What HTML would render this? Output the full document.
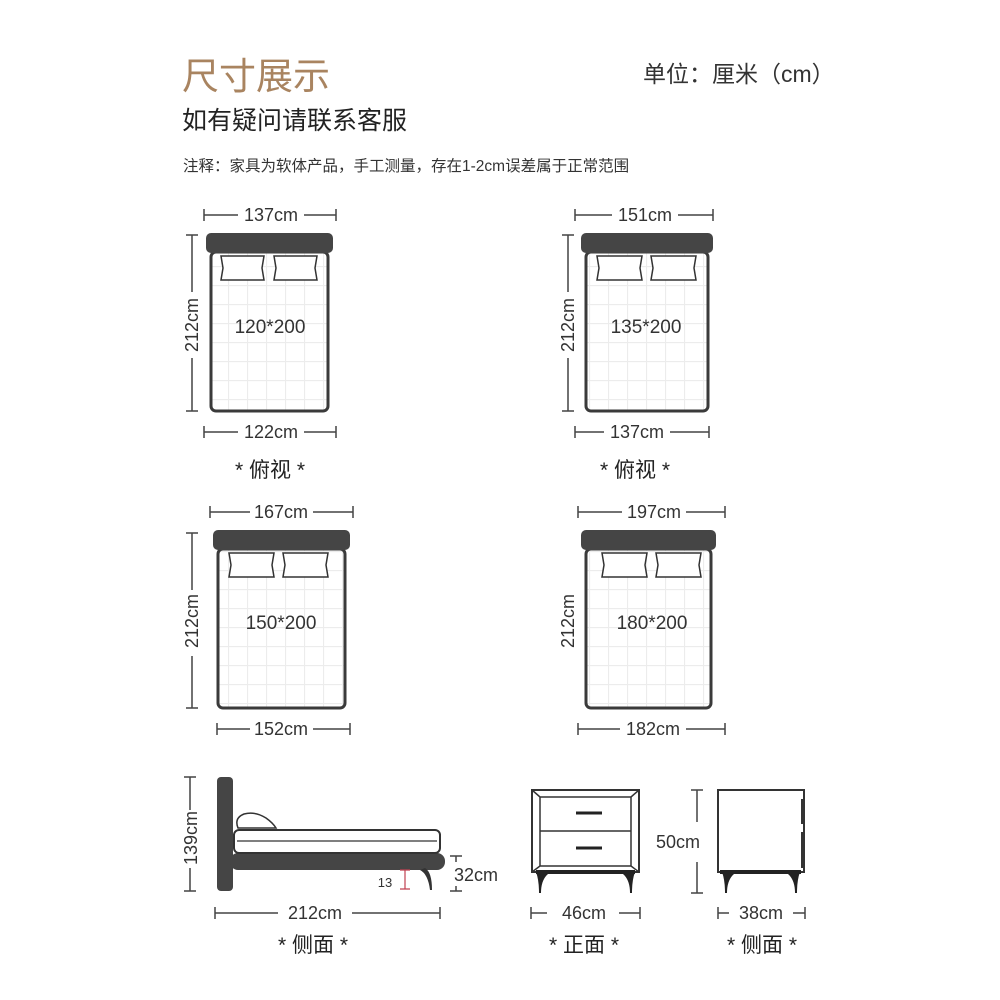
<!DOCTYPE html>
<html><head><meta charset="utf-8"><style>
html,body{margin:0;padding:0;background:#fff;}
svg{display:block;}
text{font-family:"Liberation Sans","Noto Sans CJK SC",sans-serif;}
</style></head><body>
<svg width="1000" height="1000" viewBox="0 0 1000 1000" xmlns="http://www.w3.org/2000/svg">
<defs>
<pattern id="grid" x="0" y="0" width="19" height="19" patternUnits="userSpaceOnUse">
<rect width="19" height="19" fill="#fff"/>
<path d="M0 0.5H19M0.5 0V19" stroke="#ececec" stroke-width="1.2"/>
</pattern>
</defs>
<rect width="1000" height="1000" fill="#fff"/>
<text x="182" y="89" font-size="37" fill="#a98460">尺寸展示</text>
<text x="643" y="82" font-size="23" fill="#333">单位：厘米（cm）</text>
<text x="182" y="129" font-size="25" fill="#222">如有疑问请联系客服</text>
<text x="183" y="171" font-size="15.5" fill="#333">注释：家具为软体产品，手工测量，存在1-2cm误差属于正常范围</text>

<g stroke="#444" stroke-width="1.5" fill="none">
<path d="M204 215H238M304 215H336M204 209V221M336 209V221"/>
<path d="M204 432H238M304 432H336M204 426V438M336 426V438"/>
<path d="M192 235V292M192 358V411M186 235H198M186 411H198"/>
<path d="M575 215H612M678 215H713M575 209V221M713 209V221"/>
<path d="M575 432H604M670 432H709M575 426V438M709 426V438"/>
<path d="M568 235V292M568 358V411M562 235H574M562 411H574"/>
<path d="M210 512H250M313 512H353M210 506V518M353 506V518"/>
<path d="M217 729H250M313 729H350M217 723V735M350 723V735"/>
<path d="M192 533V590M192 656V708M186 533H198M186 708H198"/>
<path d="M578 512H622M686 512H725M578 506V518M725 506V518"/>
<path d="M578 729H620M686 729H725M578 723V735M725 723V735"/>
<path d="M190 777V810M190 868V891M184 777H196M184 891H196"/>
<path d="M456 856V862M456 886V891M450 856H462M450 891H462"/>
<path d="M215 913H278M352 913H440M215 907V919M440 907V919"/>
<path d="M531 913H547M619 913H640M531 907V919M640 907V919"/>
<path d="M697 790V822M697 862V893M691 790H703M691 893H703"/>
<path d="M718 913H729M793 913H805M718 907V919M805 907V919"/>
</g>

<g font-size="18" fill="#333" text-anchor="middle">
<text x="271" y="221">137cm</text>
<text x="271" y="438">122cm</text>
<text x="645" y="221">151cm</text>
<text x="637" y="438">137cm</text>
<text x="281" y="518">167cm</text>
<text x="281" y="735">152cm</text>
<text x="654" y="518">197cm</text>
<text x="653" y="735">182cm</text>
<text transform="translate(198,325) rotate(-90)">212cm</text>
<text transform="translate(574,325) rotate(-90)">212cm</text>
<text transform="translate(198,621) rotate(-90)">212cm</text>
<text transform="translate(574,621) rotate(-90)">212cm</text>
<text transform="translate(197,838) rotate(-90)">139cm</text>
<text x="315" y="919">212cm</text>
<text x="584" y="919">46cm</text>
<text x="761" y="919">38cm</text>
<text x="476" y="881">32cm</text>
<text x="678" y="848">50cm</text>
<text x="385" y="887" font-size="13">13</text>
</g>
<g font-size="21" fill="#222" text-anchor="middle">
<text x="270" y="477">* 俯视 *</text>
<text x="635" y="477">* 俯视 *</text>
<text x="313" y="952">* 侧面 *</text>
<text x="584" y="952">* 正面 *</text>
<text x="762" y="952">* 侧面 *</text>
</g>

<g>
<rect x="211" y="252" width="117" height="159" rx="5" fill="url(#grid)" stroke="#3a3a3a" stroke-width="3"/>
<rect x="206" y="233" width="127" height="20" rx="5" fill="#454545"/>
<path d="M221 256H264L262 268L264 280H221L223 268Z" fill="#fff" stroke="#333" stroke-width="1.5"/>
<path d="M274 256H317L315 268L317 280H274L276 268Z" fill="#fff" stroke="#333" stroke-width="1.5"/>
<text x="270" y="333" font-size="19" fill="#333" text-anchor="middle">120*200</text>

<rect x="586" y="252" width="122" height="159" rx="5" fill="url(#grid)" stroke="#3a3a3a" stroke-width="3"/>
<rect x="581" y="233" width="132" height="20" rx="5" fill="#454545"/>
<path d="M597 256H642L640 268L642 280H597L599 268Z" fill="#fff" stroke="#333" stroke-width="1.5"/>
<path d="M651 256H696L694 268L696 280H651L653 268Z" fill="#fff" stroke="#333" stroke-width="1.5"/>
<text x="646" y="333" font-size="19" fill="#333" text-anchor="middle">135*200</text>

<rect x="218" y="549" width="127" height="159" rx="5" fill="url(#grid)" stroke="#3a3a3a" stroke-width="3"/>
<rect x="213" y="530" width="137" height="20" rx="5" fill="#454545"/>
<path d="M229 553H274L272 565L274 577H229L231 565Z" fill="#fff" stroke="#333" stroke-width="1.5"/>
<path d="M283 553H328L326 565L328 577H283L285 565Z" fill="#fff" stroke="#333" stroke-width="1.5"/>
<text x="281" y="629" font-size="19" fill="#333" text-anchor="middle">150*200</text>

<rect x="586" y="549" width="125" height="159" rx="5" fill="url(#grid)" stroke="#3a3a3a" stroke-width="3"/>
<rect x="581" y="530" width="135" height="20" rx="5" fill="#454545"/>
<path d="M602 553H647L645 565L647 577H602L604 565Z" fill="#fff" stroke="#333" stroke-width="1.5"/>
<path d="M656 553H701L699 565L701 577H656L658 565Z" fill="#fff" stroke="#333" stroke-width="1.5"/>
<text x="652" y="629" font-size="19" fill="#333" text-anchor="middle">180*200</text>
</g>

<rect x="217" y="777" width="16" height="114" rx="4" fill="#454545"/>
<rect x="230" y="853" width="215" height="17" rx="8" fill="#454545"/>
<path d="M425 868Q432 872 432 890L430 890Q428 874 420 870Z" fill="#333"/>
<rect x="234" y="830" width="206" height="23" rx="5" fill="#fff" stroke="#333" stroke-width="2"/>
<path d="M237 841H437" stroke="#555" stroke-width="1.5"/>
<path d="M238 828Q234 818 244 814Q255 811 266 818Q273 823 276 828Z" fill="#fff" stroke="#333" stroke-width="1.5"/>
<path d="M405 870V889M400 870H410M400 889H410" stroke="#c04050" stroke-width="1.2"/>

<rect x="532" y="790" width="107" height="82" fill="#fff" stroke="#333" stroke-width="2"/>
<path d="M532 790L540 797H631L639 790M540 797V866M631 797V866M532 872L540 866H631L639 872" fill="none" stroke="#333" stroke-width="1.5"/>
<path d="M540 831H631" stroke="#333" stroke-width="1.5"/>
<path d="M576 813H602M576 848H602" stroke="#222" stroke-width="3"/>
<path d="M536 872Q539 880 539 893H541Q541 880 548 874Z M635 872Q632 880 632 893H630Q630 880 623 874Z" fill="#222"/>
<path d="M536 872H635" stroke="#222" stroke-width="4"/>

<rect x="718" y="790" width="86" height="82" fill="#fff" stroke="#333" stroke-width="2"/>
<path d="M802 799V824M802 832V868" stroke="#333" stroke-width="2"/>
<path d="M720 872H801" stroke="#222" stroke-width="4"/>
<path d="M722 872Q725 880 725 893H727Q727 880 734 874Z M800 872Q797 880 797 893H795Q795 880 788 874Z" fill="#222"/>
</svg>
</body></html>
